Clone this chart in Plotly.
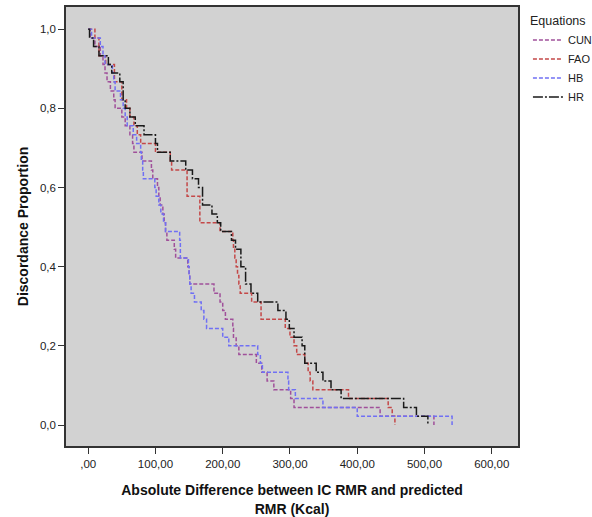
import plotly.graph_objects as go

# Step curves: x = absolute difference (Kcal) where level starts, y = discordance proportion
cun_x = [0, 3, 10, 18, 22, 25, 28, 33, 38, 40, 50, 55, 62, 66, 68, 80, 94, 96, 103, 105,
         107, 111, 113, 115, 117, 128, 130, 148, 150, 151, 187, 196, 200, 204, 215, 216, 220, 224, 250, 258,
         266, 276, 301, 306, 434, 514]
cun_y = [1.0, .978, .956, .933, .911, .889, .867, .844, .822, .800, .778, .756, .733, .711, .689, .667, .644, .622, .600, .578,
         .556, .533, .511, .489, .467, .444, .422, .400, .378, .356, .333, .311, .289, .267, .244, .222, .200, .178, .156, .133,
         .111, .089, .067, .044, .022, 0.0]

fao_x = [0, 10, 16, 26, 39, 50, 57, 62, 68, 73, 78, 100, 122, 124, 147, 166, 196, 215, 216, 218,
         220, 222, 224, 226, 243, 257, 293, 300, 306, 310, 322, 327, 330, 334, 387, 446, 452, 456]
fao_y = [1.0, .978, .933, .911, .867, .822, .800, .778, .756, .733, .711, .689, .667, .644, .578, .511, .489, .467, .444, .422,
         .400, .378, .356, .333, .311, .267, .244, .222, .200, .178, .156, .133, .111, .089, .067, .044, .022, 0.0]

hb_x = [0, 5, 18, 22, 25, 36, 38, 40, 48, 52, 55, 58, 67, 72, 78, 79, 81, 82, 99, 101,
        105, 108, 112, 115, 136, 137, 149, 150, 151, 153, 158, 168, 172, 176, 200, 209, 252, 256, 259, 297,
        298, 308, 349, 400, 541]
hb_y = [1.0, .978, .956, .933, .911, .889, .867, .844, .822, .800, .778, .756, .733, .711, .689, .667, .644, .622, .600, .578,
        .556, .533, .511, .489, .467, .422, .400, .378, .356, .333, .311, .289, .267, .244, .222, .200, .178, .156, .133, .111,
        .089, .067, .044, .022, 0.0]

hr_x = [0, 2, 8, 16, 30, 35, 47, 52, 55, 62, 70, 83, 100, 103, 122, 145, 155, 164, 170, 184,
        192, 197, 213, 219, 227, 234, 242, 252, 282, 294, 299, 306, 318, 322, 339, 349, 361, 376, 469, 488,
        505]
hr_y = [1.0, .978, .956, .933, .911, .889, .867, .822, .800, .778, .756, .733, .711, .689, .667, .644, .622, .600, .556, .533,
        .511, .489, .467, .444, .400, .356, .333, .311, .289, .267, .244, .222, .200, .156, .133, .111, .089, .067, .044, .022,
        0.0]

x_tickvals = [0, 100, 200, 300, 400, 500, 600]
x_ticktext = [",00", "100,00", "200,00", "300,00", "400,00", "500,00", "600,00"]
y_tickvals = [0.0, 0.2, 0.4, 0.6, 0.8, 1.0]
y_ticktext = ["0,0", "0,2", "0,4", "0,6", "0,8", "1,0"]

series = [
    ("CUN", cun_x, cun_y, "#a0509a", "4px,2px"),
    ("FAO", fao_x, fao_y, "#c44848", "4px,2px"),
    ("HB", hb_x, hb_y, "#7070f4", "4px,2px"),
    ("HR", hr_x, hr_y, "#1a1a1a", "10px,2px,2px,2px"),
]

fig = go.Figure()
for name, xs, ys, col, dash in series:
    fig.add_trace(go.Scatter(x=xs, y=ys, name=name, mode="lines",
                             line=dict(shape="hv", color=col, width=1.5, dash=dash)))

font_family = "Arial, Liberation Sans, sans-serif"
fig.update_layout(
    width=592, height=517,
    margin=dict(l=66, r=74, t=7, b=71, autoexpand=False),
    paper_bgcolor="white",
    plot_bgcolor="#d2d2d2",
    font=dict(family=font_family, size=11.5, color="#222"),
    showlegend=True,
    legend=dict(
        title=dict(text="Equations", font=dict(size=12.5, color="#222")),
        x=1.022, xanchor="left", y=0.995, yanchor="top",
        font=dict(size=11, color="#222"),
        bgcolor="rgba(0,0,0,0)",
        tracegroupgap=0,
        itemwidth=30,
    ),
)
fig.update_xaxes(
    range=[-33, 639], automargin=False,
    tickvals=x_tickvals, ticktext=x_ticktext,
    showgrid=False, zeroline=False,
    showline=True, mirror=True, linecolor="#333", linewidth=1.5,
    ticks="outside", ticklen=6, tickcolor="#333",
    title=dict(text="<b>Absolute Difference between IC RMR and predicted<br>RMR (Kcal)</b>",
               font=dict(size=14, color="#111"), standoff=17),
)
fig.update_yaxes(
    range=[-0.053, 1.056], automargin=False,
    tickvals=y_tickvals, ticktext=y_ticktext,
    showgrid=False, zeroline=False,
    showline=True, mirror=True, linecolor="#333", linewidth=1.5,
    ticks="outside", ticklen=6, tickcolor="#333",
    title=dict(text="<b>Discordance Proportion</b>", font=dict(size=14, color="#111"), standoff=8),
)

fig.write_html("out.html", config={"displayModeBar": False},
               post_script="document.body.style.margin='0';document.body.style.overflow='hidden';")
